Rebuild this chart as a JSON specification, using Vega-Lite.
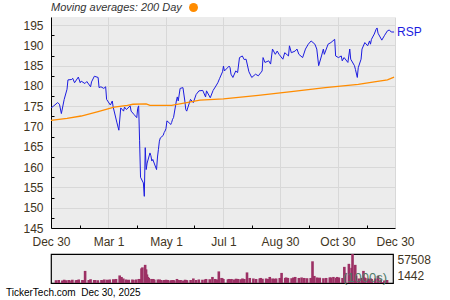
{
  "$schema": "https://vega.github.io/schema/vega-lite/v6.json",
  "padding": {"left": 5, "top": 2, "right": 5, "bottom": 2},
  "config": {
    "font": "Liberation Sans",
    "view": {"stroke": null},
    "axis": {"labelFont": "Liberation Sans", "labelFontSize": 12, "labelColor": "#3f3522"},
    "concat": {"spacing": 5}
  },
  "title": {"text": "TickerTech.com\u00a0\u00a0Dec 30, 2025", "orient": "bottom", "anchor": "start", "fontSize": 10, "fontWeight": "normal", "color": "#000000", "dx": -17, "offset": 2, "font": "Liberation Sans"},
  "datasets": {
    "px": [
      {"date": "2024-12-30", "price": 174.6, "vol": 5500},
      {"date": "2025-01-02", "price": 175.1, "vol": 6000},
      {"date": "2025-01-06", "price": 175.9, "vol": 5000},
      {"date": "2025-01-08", "price": 175.5, "vol": 6500},
      {"date": "2025-01-10", "price": 173.2, "vol": 5500},
      {"date": "2025-01-13", "price": 176.7, "vol": 6000},
      {"date": "2025-01-16", "price": 179.2, "vol": 5000},
      {"date": "2025-01-17", "price": 181.5, "vol": 6500},
      {"date": "2025-01-21", "price": 181.6, "vol": 5500},
      {"date": "2025-01-22", "price": 181.9, "vol": 6000},
      {"date": "2025-01-24", "price": 180.8, "vol": 7000},
      {"date": "2025-01-28", "price": 182.2, "vol": 6000},
      {"date": "2025-01-30", "price": 180.8, "vol": 5500},
      {"date": "2025-01-31", "price": 181.2, "vol": 24000},
      {"date": "2025-02-04", "price": 180.6, "vol": 6000},
      {"date": "2025-02-06", "price": 181.1, "vol": 7500},
      {"date": "2025-02-10", "price": 179.8, "vol": 6000},
      {"date": "2025-02-11", "price": 181.0, "vol": 6000},
      {"date": "2025-02-14", "price": 182.4, "vol": 5500},
      {"date": "2025-02-18", "price": 182.1, "vol": 6000},
      {"date": "2025-02-19", "price": 179.6, "vol": 5000},
      {"date": "2025-02-21", "price": 179.8, "vol": 7000},
      {"date": "2025-02-24", "price": 179.4, "vol": 6500},
      {"date": "2025-02-26", "price": 179.8, "vol": 6000},
      {"date": "2025-02-27", "price": 176.7, "vol": 7000},
      {"date": "2025-03-03", "price": 175.3, "vol": 7500},
      {"date": "2025-03-05", "price": 176.3, "vol": 7000},
      {"date": "2025-03-06", "price": 174.8, "vol": 8000},
      {"date": "2025-03-10", "price": 170.9, "vol": 15000},
      {"date": "2025-03-12", "price": 169.1, "vol": 12000},
      {"date": "2025-03-14", "price": 174.6, "vol": 9000},
      {"date": "2025-03-17", "price": 173.8, "vol": 7000},
      {"date": "2025-03-18", "price": 174.8, "vol": 6000},
      {"date": "2025-03-20", "price": 174.2, "vol": 6500},
      {"date": "2025-03-24", "price": 175.1, "vol": 7000},
      {"date": "2025-03-25", "price": 173.8, "vol": 6000},
      {"date": "2025-03-28", "price": 173.0, "vol": 7000},
      {"date": "2025-03-31", "price": 172.2, "vol": 8000},
      {"date": "2025-04-01", "price": 174.5, "vol": 7000},
      {"date": "2025-04-02", "price": 175.1, "vol": 7500},
      {"date": "2025-04-03", "price": 166.5, "vol": 29000},
      {"date": "2025-04-04", "price": 157.5, "vol": 31000},
      {"date": "2025-04-07", "price": 156.1, "vol": 36000},
      {"date": "2025-04-08", "price": 152.8, "vol": 27000},
      {"date": "2025-04-09", "price": 164.8, "vol": 17000},
      {"date": "2025-04-10", "price": 159.4, "vol": 12000},
      {"date": "2025-04-11", "price": 161.0, "vol": 10000},
      {"date": "2025-04-14", "price": 163.5, "vol": 8000},
      {"date": "2025-04-15", "price": 162.8, "vol": 7000},
      {"date": "2025-04-16", "price": 161.5, "vol": 8000},
      {"date": "2025-04-17", "price": 161.9, "vol": 6500},
      {"date": "2025-04-21", "price": 159.4, "vol": 7000},
      {"date": "2025-04-22", "price": 162.5, "vol": 6000},
      {"date": "2025-04-23", "price": 164.4, "vol": 7000},
      {"date": "2025-04-24", "price": 166.4, "vol": 6000},
      {"date": "2025-04-25", "price": 167.2, "vol": 5500},
      {"date": "2025-04-28", "price": 167.8, "vol": 6000},
      {"date": "2025-04-29", "price": 168.5, "vol": 5000},
      {"date": "2025-04-30", "price": 168.9, "vol": 6500},
      {"date": "2025-05-01", "price": 169.5, "vol": 5500},
      {"date": "2025-05-02", "price": 171.4, "vol": 6000},
      {"date": "2025-05-05", "price": 170.8, "vol": 5000},
      {"date": "2025-05-06", "price": 170.5, "vol": 5500},
      {"date": "2025-05-07", "price": 171.0, "vol": 5000},
      {"date": "2025-05-08", "price": 171.8, "vol": 6000},
      {"date": "2025-05-09", "price": 172.2, "vol": 5000},
      {"date": "2025-05-12", "price": 176.3, "vol": 8000},
      {"date": "2025-05-13", "price": 177.3, "vol": 6000},
      {"date": "2025-05-14", "price": 176.3, "vol": 5500},
      {"date": "2025-05-16", "price": 179.4, "vol": 6000},
      {"date": "2025-05-19", "price": 179.6, "vol": 5000},
      {"date": "2025-05-21", "price": 176.3, "vol": 6500},
      {"date": "2025-05-22", "price": 174.2, "vol": 6000},
      {"date": "2025-05-23", "price": 173.8, "vol": 5500},
      {"date": "2025-05-27", "price": 176.7, "vol": 6000},
      {"date": "2025-05-30", "price": 175.9, "vol": 9000},
      {"date": "2025-06-02", "price": 177.9, "vol": 6000},
      {"date": "2025-06-05", "price": 178.8, "vol": 7000},
      {"date": "2025-06-09", "price": 178.9, "vol": 6500},
      {"date": "2025-06-12", "price": 177.3, "vol": 7000},
      {"date": "2025-06-13", "price": 178.8, "vol": 8000},
      {"date": "2025-06-17", "price": 177.1, "vol": 7500},
      {"date": "2025-06-20", "price": 178.9, "vol": 12000},
      {"date": "2025-06-23", "price": 180.0, "vol": 8000},
      {"date": "2025-06-25", "price": 180.8, "vol": 7000},
      {"date": "2025-06-27", "price": 181.9, "vol": 23000},
      {"date": "2025-06-30", "price": 183.5, "vol": 10000},
      {"date": "2025-07-01", "price": 184.9, "vol": 9000},
      {"date": "2025-07-02", "price": 183.7, "vol": 8000},
      {"date": "2025-07-07", "price": 184.9, "vol": 7000},
      {"date": "2025-07-08", "price": 184.5, "vol": 8000},
      {"date": "2025-07-09", "price": 182.9, "vol": 7500},
      {"date": "2025-07-11", "price": 182.1, "vol": 8000},
      {"date": "2025-07-14", "price": 183.7, "vol": 7000},
      {"date": "2025-07-16", "price": 183.3, "vol": 8500},
      {"date": "2025-07-18", "price": 187.0, "vol": 8000},
      {"date": "2025-07-21", "price": 187.4, "vol": 7500},
      {"date": "2025-07-23", "price": 186.5, "vol": 9000},
      {"date": "2025-07-25", "price": 186.6, "vol": 8000},
      {"date": "2025-07-28", "price": 183.5, "vol": 21000},
      {"date": "2025-07-31", "price": 182.1, "vol": 10000},
      {"date": "2025-08-04", "price": 182.9, "vol": 9000},
      {"date": "2025-08-07", "price": 182.5, "vol": 8000},
      {"date": "2025-08-11", "price": 183.7, "vol": 9000},
      {"date": "2025-08-12", "price": 187.0, "vol": 10000},
      {"date": "2025-08-14", "price": 185.8, "vol": 8500},
      {"date": "2025-08-18", "price": 186.2, "vol": 9000},
      {"date": "2025-08-20", "price": 185.4, "vol": 8000},
      {"date": "2025-08-22", "price": 189.1, "vol": 12000},
      {"date": "2025-08-25", "price": 187.8, "vol": 9000},
      {"date": "2025-08-27", "price": 188.6, "vol": 8500},
      {"date": "2025-08-29", "price": 187.8, "vol": 9000},
      {"date": "2025-09-02", "price": 186.6, "vol": 10000},
      {"date": "2025-09-04", "price": 188.2, "vol": 20000},
      {"date": "2025-09-08", "price": 187.4, "vol": 10000},
      {"date": "2025-09-09", "price": 189.9, "vol": 11000},
      {"date": "2025-09-11", "price": 188.2, "vol": 10000},
      {"date": "2025-09-15", "price": 188.6, "vol": 9500},
      {"date": "2025-09-17", "price": 189.1, "vol": 11000},
      {"date": "2025-09-19", "price": 187.8, "vol": 12000},
      {"date": "2025-09-23", "price": 187.0, "vol": 10000},
      {"date": "2025-09-26", "price": 189.1, "vol": 11000},
      {"date": "2025-09-29", "price": 190.3, "vol": 10000},
      {"date": "2025-10-02", "price": 191.1, "vol": 9500},
      {"date": "2025-10-06", "price": 190.3, "vol": 10000},
      {"date": "2025-10-08", "price": 189.1, "vol": 43000},
      {"date": "2025-10-10", "price": 185.0, "vol": 14000},
      {"date": "2025-10-13", "price": 187.4, "vol": 11000},
      {"date": "2025-10-15", "price": 189.1, "vol": 10000},
      {"date": "2025-10-16", "price": 187.8, "vol": 10500},
      {"date": "2025-10-20", "price": 190.3, "vol": 9500},
      {"date": "2025-10-23", "price": 190.7, "vol": 10000},
      {"date": "2025-10-27", "price": 191.5, "vol": 11000},
      {"date": "2025-10-28", "price": 187.4, "vol": 11000},
      {"date": "2025-10-31", "price": 187.0, "vol": 12000},
      {"date": "2025-11-03", "price": 187.4, "vol": 10000},
      {"date": "2025-11-04", "price": 186.2, "vol": 12000},
      {"date": "2025-11-06", "price": 187.0, "vol": 11000},
      {"date": "2025-11-10", "price": 185.8, "vol": 10000},
      {"date": "2025-11-12", "price": 189.1, "vol": 32000},
      {"date": "2025-11-13", "price": 186.6, "vol": 20000},
      {"date": "2025-11-17", "price": 185.0, "vol": 38000},
      {"date": "2025-11-18", "price": 184.1, "vol": 20000},
      {"date": "2025-11-20", "price": 182.1, "vol": 30000},
      {"date": "2025-11-21", "price": 184.5, "vol": 57508},
      {"date": "2025-11-24", "price": 186.6, "vol": 36000},
      {"date": "2025-11-25", "price": 189.1, "vol": 15000},
      {"date": "2025-11-28", "price": 190.7, "vol": 9000},
      {"date": "2025-12-01", "price": 189.9, "vol": 10000},
      {"date": "2025-12-03", "price": 191.1, "vol": 24000},
      {"date": "2025-12-04", "price": 190.3, "vol": 11000},
      {"date": "2025-12-05", "price": 191.5, "vol": 10000},
      {"date": "2025-12-08", "price": 192.8, "vol": 9000},
      {"date": "2025-12-10", "price": 194.0, "vol": 8000},
      {"date": "2025-12-11", "price": 194.3, "vol": 9000},
      {"date": "2025-12-12", "price": 193.0, "vol": 8000},
      {"date": "2025-12-16", "price": 191.3, "vol": 9000},
      {"date": "2025-12-19", "price": 192.5, "vol": 14000},
      {"date": "2025-12-22", "price": 193.6, "vol": 7000},
      {"date": "2025-12-24", "price": 193.8, "vol": 1442},
      {"date": "2025-12-26", "price": 193.3, "vol": 5000},
      {"date": "2025-12-29", "price": 193.3, "vol": 6000}
    ],
    "ma": [
      {"date": "2024-12-30", "ma": 171.5},
      {"date": "2025-01-16", "ma": 172.0},
      {"date": "2025-01-31", "ma": 172.6},
      {"date": "2025-02-18", "ma": 173.7},
      {"date": "2025-03-07", "ma": 174.8},
      {"date": "2025-03-21", "ma": 175.2},
      {"date": "2025-03-27", "ma": 175.5},
      {"date": "2025-04-10", "ma": 175.6},
      {"date": "2025-04-14", "ma": 175.2},
      {"date": "2025-05-07", "ma": 175.2},
      {"date": "2025-05-23", "ma": 175.9},
      {"date": "2025-06-06", "ma": 176.5},
      {"date": "2025-07-01", "ma": 176.8},
      {"date": "2025-08-07", "ma": 177.7},
      {"date": "2025-09-11", "ma": 178.6},
      {"date": "2025-10-17", "ma": 179.6},
      {"date": "2025-11-21", "ma": 180.4},
      {"date": "2025-12-08", "ma": 181.0},
      {"date": "2025-12-22", "ma": 181.5},
      {"date": "2025-12-29", "ma": 182.2}
    ]
  },
  "vconcat": [
    {
      "width": 344,
      "height": 211,
      "title": {"text": "Moving averages: 200 Day", "anchor": "start", "frame": "group", "fontSize": 11, "fontStyle": "italic", "fontWeight": "normal", "color": "#333333", "offset": 4, "font": "Liberation Sans"},
      "view": {"fill": "#ececec", "stroke": null},
      "resolve": {"axis": {"x": "independent", "y": "independent"}},
      "layer": [
        {
          "data": {"name": "px"},
          "mark": {"type": "line", "color": "#1c1ce0", "strokeWidth": 1},
          "encoding": {
            "x": {"field": "date", "type": "temporal",
              "scale": {"type": "utc", "domain": [{"year": 2024, "month": 12, "date": 30, "utc": true}, {"year": 2025, "month": 12, "date": 30, "utc": true}]},
              "axis": {"title": null, "format": "%b %-d", "values": [
                {"year": 2024, "month": 12, "date": 30, "utc": true},
                {"year": 2025, "month": 3, "date": 1, "utc": true},
                {"year": 2025, "month": 5, "date": 1, "utc": true},
                {"year": 2025, "month": 7, "date": 1, "utc": true},
                {"year": 2025, "month": 8, "date": 30, "utc": true},
                {"year": 2025, "month": 10, "date": 30, "utc": true},
                {"year": 2025, "month": 12, "date": 30, "utc": true}],
                "grid": true, "gridColor": "#d8d8d8", "domainColor": "#000000", "tickSize": 0, "labelPadding": 8, "labelFlush": false, "labelOverlap": false}},
            "y": {"field": "price", "type": "quantitative",
              "scale": {"domain": [145, 197], "nice": false, "zero": false},
              "axis": {"title": null, "values": [145, 150, 155, 160, 165, 170, 175, 180, 185, 190, 195], "grid": true, "gridColor": "#d8d8d8", "domainColor": "#000000", "tickSize": 0, "labelPadding": 8, "labelOverlap": false}}
          }
        },
        {
          "data": {"name": "ma"},
          "mark": {"type": "line", "strokeWidth": 1.3},
          "encoding": {
            "x": {"field": "date", "type": "temporal",
              "axis": {"orient": "bottom", "title": null, "labels": false, "grid": false, "domain": false, "tickSize": -3, "tickColor": "#000000", "values": [
                {"year": 2025, "month": 1, "date": 30, "utc": true},
                {"year": 2025, "month": 3, "date": 31, "utc": true},
                {"year": 2025, "month": 5, "date": 31, "utc": true},
                {"year": 2025, "month": 7, "date": 31, "utc": true},
                {"year": 2025, "month": 9, "date": 30, "utc": true},
                {"year": 2025, "month": 11, "date": 30, "utc": true}]}},
            "y": {"field": "ma", "type": "quantitative",
              "axis": {"orient": "left", "title": null, "labels": false, "grid": false, "domain": false, "tickSize": -3, "tickColor": "#000000",
                "values": [147.5, 152.5, 157.5, 162.5, 167.5, 172.5, 177.5, 182.5, 187.5, 192.5]}},
            "color": {"datum": "200 Day", "scale": {"range": ["#ff8c00"]},
              "legend": {"orient": "none", "legendX": 138, "legendY": -14, "title": null, "labelExpr": "''", "labelFontSize": 1, "symbolType": "circle", "symbolSize": 80, "symbolFillColor": "#ff8c00", "symbolStrokeColor": "#ff8c00", "symbolStrokeWidth": 0, "padding": 0}}
          }
        },
        {
          "data": {"name": "px"},
          "transform": [{"filter": {"field": "date", "equal": {"year": 2025, "month": 12, "date": 29, "utc": true}}}],
          "mark": {"type": "text", "align": "left", "baseline": "middle", "dx": 3, "color": "#1c1ce0", "fontSize": 12, "font": "Liberation Sans"},
          "encoding": {
            "x": {"field": "date", "type": "temporal", "axis": null},
            "y": {"field": "price", "type": "quantitative", "axis": null},
            "text": {"value": "RSP"}
          }
        }
      ]
    },
    {
      "width": 342,
      "height": 29,
      "view": {"fill": "#ececec", "stroke": "#000000", "strokeWidth": 1.2},
      "layer": [
        {
          "data": {"name": "px"},
          "mark": {"type": "bar", "color": "#9c3064", "width": 2.6},
          "encoding": {
            "x": {"field": "date", "type": "temporal",
              "scale": {"type": "utc", "domain": [{"year": 2024, "month": 12, "date": 30, "utc": true}, {"year": 2025, "month": 12, "date": 30, "utc": true}]},
              "axis": null},
            "y": {"field": "vol", "type": "quantitative",
              "scale": {"domain": [0, 57508], "nice": false},
              "axis": {"orient": "right", "title": null, "values": [1442, 57508], "format": "d", "grid": false, "domain": false, "ticks": false, "labelPadding": 4,
                "labelBaseline": {"condition": {"test": "datum.value > 10000", "value": "top"}, "value": "bottom"}}}
          }
        },
        {
          "data": {"values": [{"label": "(1000s)"}]},
          "mark": {"type": "text", "align": "right", "baseline": "bottom", "dx": -1, "dy": 2, "fontSize": 13, "color": "#4f7a68", "opacity": 1, "font": "Liberation Sans"},
          "encoding": {
            "x": {"datum": {"year": 2025, "month": 12, "date": 30, "utc": true}, "type": "temporal"},
            "y": {"datum": 0, "type": "quantitative"},
            "text": {"field": "label"}
          }
        }
      ]
    }
  ]
}
